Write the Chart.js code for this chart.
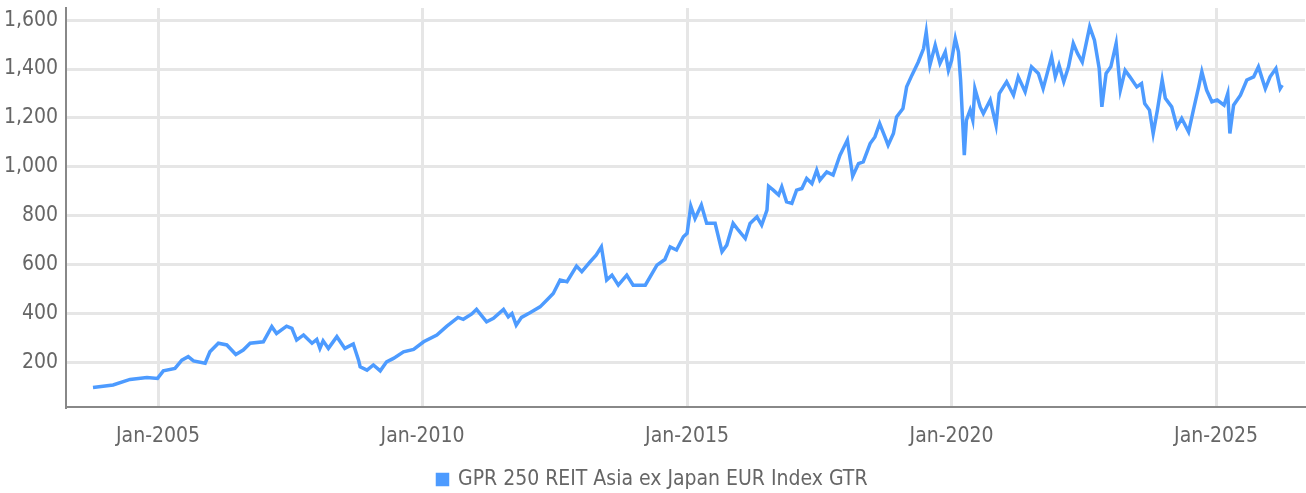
<!DOCTYPE html>
<html>
<head>
<meta charset="utf-8">
<script src="https://cdn.jsdelivr.net/npm/chart.js@4"></script>
<style>
  html, body { margin: 0; padding: 0; background: #fff; }
  #wrap { width: 1306px; height: 493px; }
</style>
</head>
<body>
<div id="wrap"><canvas id="chart"></canvas></div>
<script>
// decimal years
const dates = [
  2003.77, 2004.15, 2004.47, 2004.79, 2004.99, 2005.10, 2005.32, 2005.45, 2005.57, 2005.67,
  2005.89, 2005.98, 2006.14, 2006.30, 2006.47, 2006.61, 2006.74, 2006.99, 2007.15, 2007.24,
  2007.43, 2007.53, 2007.62, 2007.75, 2007.91, 2008.00, 2008.06, 2008.12, 2008.22, 2008.38,
  2008.53, 2008.69, 2008.79, 2008.82, 2008.95, 2009.07, 2009.20, 2009.32, 2009.45, 2009.64,
  2009.83, 2010.02, 2010.27, 2010.46, 2010.67, 2010.77, 2010.93, 2011.02, 2011.21, 2011.34,
  2011.53, 2011.62, 2011.69, 2011.77, 2011.87, 2012.03, 2012.22, 2012.35, 2012.47, 2012.60,
  2012.73, 2012.91, 2013.01, 2013.17, 2013.28, 2013.38, 2013.48, 2013.58, 2013.70, 2013.86,
  2013.98, 2014.21, 2014.43, 2014.58, 2014.68, 2014.80, 2014.93, 2015.00, 2015.07, 2015.15,
  2015.27, 2015.37, 2015.53, 2015.66, 2015.75, 2015.87, 2015.97, 2016.10, 2016.19, 2016.32,
  2016.41, 2016.51, 2016.54, 2016.63, 2016.73, 2016.79, 2016.88, 2016.98, 2017.07, 2017.17,
  2017.26, 2017.36, 2017.45, 2017.51, 2017.64, 2017.76, 2017.89, 2018.03, 2018.13, 2018.24,
  2018.33, 2018.46, 2018.55, 2018.64, 2018.74, 2018.80, 2018.90, 2018.96, 2019.08, 2019.15,
  2019.25, 2019.37, 2019.47, 2019.52, 2019.59, 2019.69, 2019.78, 2019.88, 2019.94, 2020.00,
  2020.07, 2020.13, 2020.17, 2020.24, 2020.28, 2020.35, 2020.40, 2020.44, 2020.54, 2020.60,
  2020.73, 2020.84, 2020.90, 2021.04, 2021.17, 2021.26, 2021.39, 2021.51, 2021.64, 2021.73,
  2021.89, 2021.96, 2022.03, 2022.12, 2022.21, 2022.30, 2022.38, 2022.47, 2022.53, 2022.61,
  2022.70, 2022.79, 2022.84, 2022.92, 2023.01, 2023.11, 2023.19, 2023.28, 2023.37, 2023.50,
  2023.59, 2023.65, 2023.74, 2023.81, 2023.89, 2023.98, 2024.04, 2024.16, 2024.26, 2024.35,
  2024.48, 2024.57, 2024.67, 2024.73, 2024.82, 2024.92, 2025.02, 2025.15, 2025.22, 2025.26,
  2025.33, 2025.46, 2025.58, 2025.71, 2025.80, 2025.93, 2026.02, 2026.13, 2026.21, 2026.25
];

const values = [
  96, 106, 129, 137, 133, 164, 174, 208, 222, 205,
  195, 242, 277, 270, 231, 249, 277, 283, 345, 317,
  347, 338, 290, 311, 277, 293, 256, 287, 256, 304,
  256, 274, 208, 181, 167, 188, 164, 201, 215, 242,
  252, 283, 311, 347, 383, 375, 397, 416, 365, 379,
  416, 385, 399, 351, 383, 402, 426, 454, 481, 536,
  529, 593, 570, 611, 638, 672, 536, 556, 515, 556,
  515, 515, 597, 620, 672, 659, 713, 727, 839, 788,
  843, 768, 768, 652, 679, 768, 740, 706, 768, 795,
  761, 822, 920, 904, 884, 918, 856, 850, 904, 911,
  952, 931, 986, 945, 979, 966, 1047, 1109, 961, 1013,
  1020, 1095, 1122, 1177, 1122, 1088, 1136, 1204, 1238, 1327,
  1375, 1429, 1484, 1552, 1416, 1498, 1423, 1470, 1395, 1436,
  1525, 1470, 1355, 1047, 1191, 1232, 1191, 1320, 1245, 1218,
  1273, 1170, 1300, 1348, 1293, 1368, 1307, 1409, 1382, 1320,
  1450, 1368, 1416, 1348, 1409, 1505, 1464, 1429, 1491, 1573,
  1518, 1402, 1245, 1382, 1409, 1505, 1314, 1395, 1368, 1327,
  1341, 1259, 1232, 1136, 1232, 1355, 1280, 1245, 1163, 1198,
  1143, 1232, 1327, 1389, 1314, 1266, 1273, 1252, 1300, 1136,
  1252, 1293, 1355, 1368, 1409, 1320, 1368, 1402, 1320, 1334
];

const xTickYears = [2005, 2010, 2015, 2020, 2025];
const yTickValues = [200, 400, 600, 800, 1000, 1200, 1400, 1600];
const seriesName = "GPR 250 REIT Asia ex Japan EUR Index GTR";

const FONT = "'DejaVu Sans Condensed', 'Liberation Sans Narrow', Roboto, sans-serif";
const lineColor = "#4d9bff";
const textColor = "#666";

const points = dates.map(function (d, i) {
  return { x: d, y: values[i] };
});

new Chart(document.getElementById("chart"), {
  type: "line",
  data: {
    datasets: [
      {
        label: seriesName,
        data: points,
        borderColor: lineColor,
        backgroundColor: lineColor,
        borderWidth: 3.5,
        pointRadius: 0,
        tension: 0,
      },
    ],
  },
  options: {
    responsive: true,
    maintainAspectRatio: false,
    animation: false,
    layout: { padding: { top: 8, right: 1, left: 0, bottom: 0 } },
    plugins: {
      tooltip: { enabled: false },
      legend: {
        position: "bottom",
        maxHeight: 26,
        labels: {
          font: { family: FONT, size: 21 },
          color: textColor,
          boxWidth: 10,
          boxHeight: 10,
          usePointStyle: true,
          pointStyle: "rect",
          padding: 2,
        },
      },
    },
    scales: {
      x: {
        type: "linear",
        min: 2003.26,
        max: 2026.68,
        afterBuildTicks: function (scale) {
          scale.ticks = xTickYears.map(function (v) { return { value: v }; });
        },
        afterFit: function (scale) { scale.height = 60; },
        ticks: {
          font: { family: FONT, size: 21 },
          color: textColor,
          padding: 17,
          maxRotation: 0,
          callback: function (v) { return "Jan-" + v; },
        },
        grid: { color: "#e6e6e6", lineWidth: 3, drawTicks: false },
        border: { color: "#888", width: 2 },
      },
      y: {
        min: 16,
        max: 1650,
        afterBuildTicks: function (scale) {
          scale.ticks = yTickValues.map(function (v) { return { value: v }; });
        },
        afterFit: function (scale) {
          scale.width = 66;
          scale.paddingTop = 0;
          scale.paddingBottom = 0;
        },
        ticks: {
          font: { family: FONT, size: 21 },
          color: textColor,
          padding: 8,
          callback: function (v) { return v.toLocaleString("en-US"); },
        },
        grid: { color: "#e6e6e6", lineWidth: 3, drawTicks: false },
        border: { color: "#888", width: 2 },
      },
    },
  },
});
</script>
</body>
</html>
